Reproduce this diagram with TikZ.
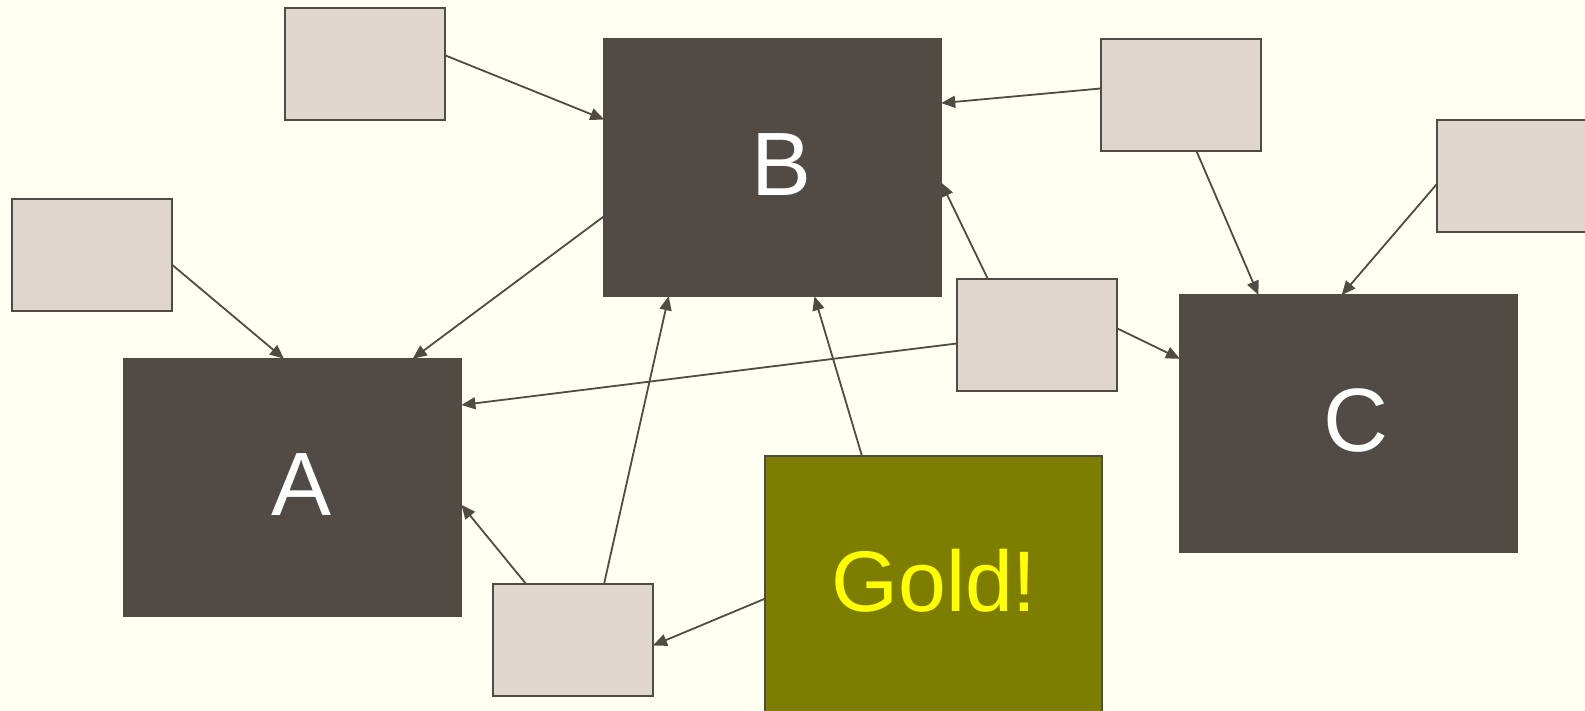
\documentclass[tikz,border=0pt]{standalone}
\usepackage{fontspec}
\setmainfont{Liberation Sans}
\usetikzlibrary{arrows.meta}
\definecolor{bgcol}{HTML}{FFFFF2}
\definecolor{darkcol}{HTML}{524A45}
\definecolor{lightcol}{HTML}{DFD7CE}
\definecolor{goldfill}{HTML}{7D7D00}
\definecolor{goldtext}{HTML}{FFFF00}
\begin{document}
\begin{tikzpicture}[x=1pt,y=-1pt,
  small/.style={draw=darkcol, line width=2pt, fill=lightcol, minimum width=160pt, minimum height=112pt, inner sep=0pt, outer sep=0pt},
  big/.style={fill=darkcol, draw=darkcol, line width=2pt, minimum width=337pt, minimum height=257pt, inner sep=0pt, outer sep=0pt, text=white, font=\fontsize{90}{90}\selectfont, text height=64.4pt, text depth=8pt},
  goldbox/.style={big, fill=goldfill, text=goldtext, font=\fontsize{86}{86}\selectfont, text height=61.6pt, text depth=6pt},
  link/.style={draw=darkcol, line width=1.8pt, -{Triangle[length=14pt,width=12pt]}}]
\useasboundingbox (0,0) rectangle (1585,711);
\clip (0,0) rectangle (1585,711);
\fill[bgcol] (0,0) rectangle (1585,711);
% big nodes
\node[big] (B) at (772.7,167.8) {\kern18pt B};
\node[big] (A) at (292.9,487.2) {\kern18pt A};
\node[big] (C) at (1348.4,423.5) {\kern16pt C};
\node[goldbox] (Gold) at (933.1,584.1) {\kern2pt Gold!};
% small nodes
\node[small] (S1) at (365,63.7) {};
\node[small] (S2) at (1180.6,95.5) {};
\node[small] (S3) at (1516.6,175.9) {};
\node[small] (S4) at (92.4,255.2) {};
\node[small] (S5) at (1036.6,335.1) {};
\node[small] (S6) at (573,639.9) {};
% connectors
\draw[link] (S1.6) -- (B.164);
\draw[link] (S4.-7) -- (A.94);
\draw[link] (B.-164) -- (A.47);
\draw[link] (S2.175) -- (B.21);
\draw[link] (S5.131) -- (B.-5);
\draw[link] (S2.-74) -- (C.125);
\draw[link] (S3.-174) -- (C.93);
\draw[link] (S5.5) -- (C.159);
\draw[link] (S5.-174) -- (A.26);
\draw[link] (S6.130) -- (A.-6);
\draw[link] (S6.61) -- (B.-129);
\draw[link] (Gold.119) -- (B.-72);
\draw[link] (Gold.-175) -- (S6.-4);
\end{tikzpicture}
\end{document}
